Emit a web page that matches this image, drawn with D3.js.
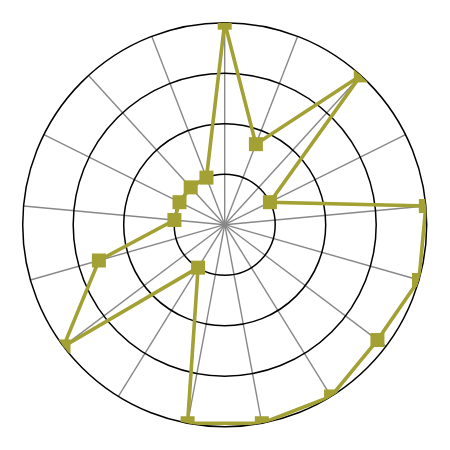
<!DOCTYPE html>
<html><head><meta charset="utf-8">
<script src="https://cdn.jsdelivr.net/npm/d3@7"></script>
<style>html,body{margin:0;padding:0;background:#fff}</style>
</head><body><svg id="c" width="450" height="450"></svg>
<script>
const categories = ["A","B","C","D","E","F","G","H","I","J","K","L","M","N","O","P","Q"];
const values = [4, 1.71, 4, 1, 4, 4, 3.79, 4, 4, 4, 1, 4, 2.59, 1, 1, 1, 1];
const ringTicks = [1, 2, 3, 4];

const cx = 224.7, cy = 224.7, R = 202;
const color = "#a3a034";

const svg = d3.select("#c");
const g = svg.append("g").attr("transform", `translate(${cx},${cy})`);

const r = d3.scaleLinear().domain([0, 4]).range([0, R]);
const a = d3.scaleBand().domain(categories).range([0, 2 * Math.PI]).paddingInner(0).paddingOuter(0).align(0);

svg.append("defs").append("clipPath").attr("id", "clip")
  .append("circle").attr("cx", 0).attr("cy", 0).attr("r", R);

// spokes
g.selectAll("line.spoke").data(categories).join("line")
  .attr("class", "spoke")
  .attr("x1", 0).attr("y1", 0)
  .attr("x2", d => R * Math.sin(a(d)))
  .attr("y2", d => -R * Math.cos(a(d)))
  .attr("stroke", "#888").attr("stroke-width", 1.4);

// rings
g.selectAll("circle.ring").data(ringTicks).join("circle")
  .attr("class", "ring")
  .attr("r", d => r(d))
  .attr("fill", "none").attr("stroke", "#000").attr("stroke-width", 1.5);

const data = categories.map((c, i) => ({ c, v: values[i] }));

const plot = g.append("g").attr("clip-path", "url(#clip)");

const line = d3.lineRadial()
  .angle(d => a(d.c))
  .radius(d => r(d.v))
  .curve(d3.curveLinearClosed);

plot.append("path").datum(data)
  .attr("d", line)
  .attr("fill", "none").attr("stroke", color).attr("stroke-width", 3.6)
  .attr("stroke-linejoin", "miter");

const ms = 14;
plot.selectAll("rect.m").data(data).join("rect")
  .attr("class", "m")
  .attr("x", d => r(d.v) * Math.sin(a(d.c)) - ms / 2)
  .attr("y", d => -r(d.v) * Math.cos(a(d.c)) - ms / 2)
  .attr("width", ms).attr("height", ms)
  .attr("fill", color);
</script>
</body></html>
